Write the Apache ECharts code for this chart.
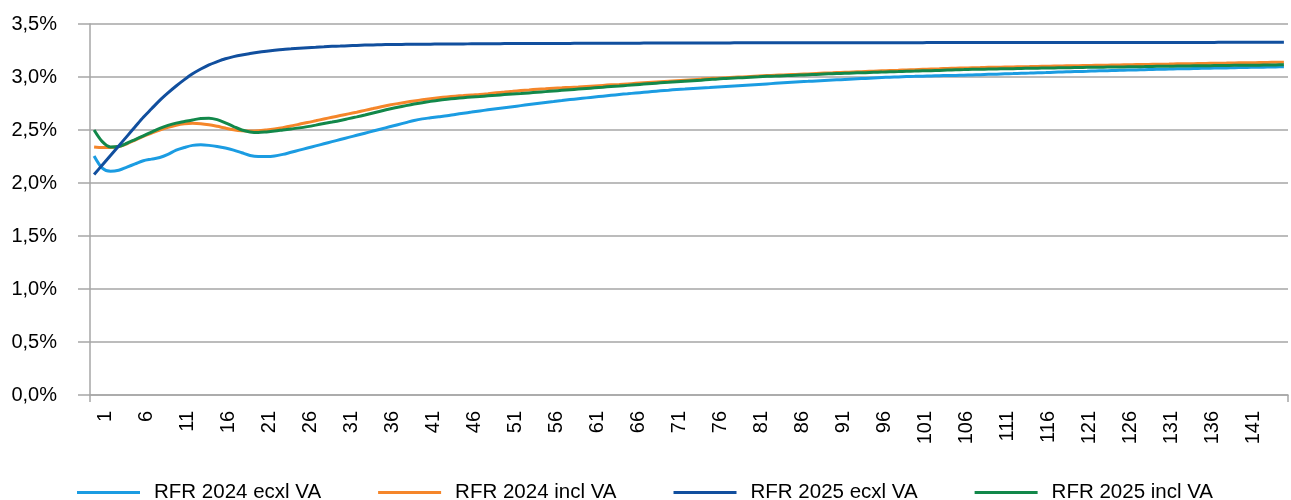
<!DOCTYPE html>
<html>
<head>
<meta charset="utf-8">
<title>RFR</title>
<script src="https://cdn.jsdelivr.net/npm/echarts@6/dist/echarts.min.js"></script>
<style>
  html, body { margin: 0; padding: 0; background: #ffffff; }
  #chart { width: 1291px; height: 500px; }
</style>
</head>
<body>
<div id="chart"></div>
<script>
// Maturities (years) on the category axis
const maturities = Array.from({ length: 146 }, (_, i) => String(i + 1));

const seriesNames = ['RFR 2024 ecxl VA', 'RFR 2024 incl VA', 'RFR 2025 ecxl VA', 'RFR 2025 incl VA'];

// Rates in percent, one value per maturity
const rfr2024Excl = [
  2.255, 2.140, 2.110, 2.120, 2.150, 2.180, 2.210, 2.225, 2.240, 2.270,
  2.310, 2.335, 2.355, 2.360, 2.355, 2.345, 2.330, 2.310, 2.285, 2.260,
  2.250, 2.250, 2.255, 2.270, 2.290, 2.310, 2.330, 2.350, 2.370, 2.390,
  2.410, 2.430, 2.450, 2.470, 2.490, 2.510, 2.530, 2.550, 2.570, 2.590,
  2.605, 2.615, 2.625, 2.635, 2.647, 2.658, 2.669, 2.680, 2.690, 2.700,
  2.710, 2.720, 2.730, 2.740, 2.750, 2.760, 2.769, 2.778, 2.787, 2.795,
  2.803, 2.811, 2.819, 2.827, 2.835, 2.842, 2.849, 2.856, 2.863, 2.870,
  2.876, 2.882, 2.887, 2.892, 2.896, 2.900, 2.905, 2.910, 2.915, 2.920,
  2.925, 2.930, 2.935, 2.940, 2.945, 2.950, 2.955, 2.959, 2.963, 2.967,
  2.971, 2.975, 2.979, 2.983, 2.987, 2.991, 2.995, 2.998, 3.001, 3.004,
  3.006, 3.008, 3.010, 3.012, 3.014, 3.015, 3.017, 3.020, 3.022, 3.025,
  3.027, 3.030, 3.032, 3.035, 3.037, 3.040, 3.042, 3.045, 3.047, 3.050,
  3.052, 3.054, 3.057, 3.059, 3.061, 3.063, 3.065, 3.067, 3.069, 3.071,
  3.073, 3.075, 3.077, 3.078, 3.080, 3.082, 3.083, 3.085, 3.086, 3.088,
  3.089, 3.091, 3.092, 3.094, 3.095, 3.097
];

const rfr2024Incl = [
  2.340, 2.335, 2.335, 2.345, 2.370, 2.405, 2.440, 2.470, 2.500, 2.525,
  2.545, 2.558, 2.563, 2.560, 2.550, 2.535, 2.518, 2.503, 2.493, 2.490,
  2.492, 2.500, 2.510, 2.522, 2.537, 2.555, 2.570, 2.587, 2.604, 2.620,
  2.636, 2.652, 2.668, 2.685, 2.702, 2.719, 2.735, 2.749, 2.762, 2.774,
  2.785, 2.795, 2.804, 2.812, 2.819, 2.825, 2.831, 2.836, 2.843, 2.851,
  2.858, 2.865, 2.872, 2.878, 2.884, 2.889, 2.894, 2.898, 2.902, 2.906,
  2.911, 2.916, 2.921, 2.926, 2.930, 2.935, 2.940, 2.945, 2.950, 2.955,
  2.960, 2.965, 2.970, 2.975, 2.980, 2.985, 2.989, 2.993, 2.997, 3.001,
  3.005, 3.009, 3.013, 3.017, 3.020, 3.023, 3.026, 3.029, 3.033, 3.037,
  3.040, 3.043, 3.046, 3.049, 3.052, 3.055, 3.058, 3.061, 3.064, 3.067,
  3.069, 3.072, 3.075, 3.078, 3.081, 3.083, 3.085, 3.087, 3.089, 3.091,
  3.092, 3.094, 3.095, 3.097, 3.098, 3.100, 3.101, 3.103, 3.104, 3.106,
  3.107, 3.109, 3.110, 3.111, 3.113, 3.114, 3.115, 3.117, 3.118, 3.120,
  3.121, 3.122, 3.124, 3.125, 3.126, 3.127, 3.129, 3.130, 3.131, 3.133,
  3.134, 3.135, 3.136, 3.137, 3.139, 3.140
];

const rfr2025Excl = [
  2.080, 2.170, 2.260, 2.350, 2.440, 2.530, 2.620, 2.700, 2.780, 2.850,
  2.915, 2.975, 3.030, 3.075, 3.115, 3.145, 3.172, 3.192, 3.208, 3.221,
  3.233, 3.243, 3.252, 3.260, 3.266, 3.272, 3.277, 3.281, 3.285, 3.289,
  3.292, 3.295, 3.298, 3.301, 3.303, 3.305, 3.306, 3.307, 3.308, 3.309,
  3.310, 3.310, 3.311, 3.311, 3.312, 3.312, 3.313, 3.313, 3.314, 3.314,
  3.315, 3.315, 3.315, 3.316, 3.316, 3.316, 3.317, 3.317, 3.317, 3.318,
  3.318, 3.318, 3.318, 3.319, 3.319, 3.319, 3.319, 3.320, 3.320, 3.320,
  3.320, 3.320, 3.321, 3.321, 3.321, 3.321, 3.321, 3.321, 3.322, 3.322,
  3.322, 3.322, 3.322, 3.322, 3.322, 3.323, 3.323, 3.323, 3.323, 3.323,
  3.323, 3.323, 3.323, 3.324, 3.324, 3.324, 3.324, 3.324, 3.324, 3.324,
  3.324, 3.324, 3.325, 3.325, 3.325, 3.325, 3.325, 3.325, 3.325, 3.325,
  3.325, 3.325, 3.325, 3.325, 3.325, 3.325, 3.326, 3.326, 3.326, 3.326,
  3.326, 3.326, 3.326, 3.326, 3.326, 3.326, 3.326, 3.326, 3.326, 3.326,
  3.326, 3.326, 3.326, 3.326, 3.326, 3.326, 3.326, 3.327, 3.327, 3.327,
  3.327, 3.327, 3.327, 3.327, 3.327, 3.327
];

const rfr2025Incl = [
  2.500, 2.390, 2.340, 2.345, 2.375, 2.410, 2.445, 2.480, 2.515, 2.543,
  2.565, 2.580, 2.595, 2.608, 2.612, 2.598, 2.568, 2.533, 2.500, 2.482,
  2.476, 2.482, 2.490, 2.500, 2.510, 2.520, 2.532, 2.546, 2.561, 2.575,
  2.590, 2.607, 2.624, 2.642, 2.661, 2.680, 2.698, 2.714, 2.730, 2.745,
  2.758, 2.770, 2.781, 2.790, 2.798, 2.805, 2.811, 2.816, 2.822, 2.828,
  2.834, 2.839, 2.844, 2.850, 2.856, 2.862, 2.868, 2.874, 2.880, 2.886,
  2.892, 2.898, 2.904, 2.910, 2.915, 2.921, 2.927, 2.933, 2.939, 2.945,
  2.950, 2.955, 2.960, 2.965, 2.970, 2.976, 2.982, 2.986, 2.990, 2.994,
  2.998, 3.002, 3.006, 3.009, 3.012, 3.015, 3.018, 3.021, 3.024, 3.028,
  3.031, 3.034, 3.036, 3.039, 3.041, 3.044, 3.046, 3.049, 3.051, 3.054,
  3.056, 3.058, 3.060, 3.062, 3.065, 3.068, 3.070, 3.072, 3.073, 3.075,
  3.076, 3.078, 3.079, 3.081, 3.082, 3.083, 3.085, 3.086, 3.087, 3.088,
  3.090, 3.091, 3.092, 3.093, 3.094, 3.095, 3.096, 3.097, 3.098, 3.100,
  3.101, 3.102, 3.103, 3.104, 3.105, 3.106, 3.107, 3.108, 3.109, 3.110,
  3.110, 3.111, 3.112, 3.113, 3.114, 3.115
];

const seriesColors = ['#1b9ce2', '#f5862a', '#114f9e', '#12884a'];
const seriesData = [rfr2024Excl, rfr2024Incl, rfr2025Excl, rfr2025Incl];

const FONT = "'Liberation Sans', Arial, sans-serif";
const GRID_GRAY = '#a6a6a6';
const LABEL_STEP = 5;

const chart = echarts.init(document.getElementById('chart'), null, { renderer: 'canvas' });

chart.setOption({
  animation: false,
  backgroundColor: '#ffffff',
  textStyle: { fontFamily: FONT },
  grid: { left: 90, right: 3, top: 24, bottom: 105, containLabel: false },
  legend: {
    data: seriesNames,
    left: 72,
    top: 477,
    icon: 'rect',
    itemWidth: 63,
    itemHeight: 3,
    itemGap: 57,
    textStyle: {
      fontFamily: FONT,
      fontSize: 20.5,
      color: '#000',
      width: 171,
      padding: [0, 0, 0, 9]
    }
  },
  xAxis: {
    type: 'category',
    data: maturities,
    boundaryGap: true,
    axisLine: { show: true, lineStyle: { color: GRID_GRAY, width: 1.5 } },
    axisTick: {
      show: true,
      length: 7,
      interval: (index) => index === 0,
      lineStyle: { color: GRID_GRAY, width: 1.5 }
    },
    axisLabel: {
      // every fifth maturity, leaving the final partial step unlabeled
      interval: (index) => index % LABEL_STEP === 0 && index + LABEL_STEP <= maturities.length,
      rotate: 90,
      margin: 16,
      verticalAlign: 'top',
      lineHeight: 22,
      fontFamily: FONT,
      fontSize: 20,
      color: '#000'
    },
    splitLine: { show: false }
  },
  yAxis: {
    type: 'value',
    min: 0,
    max: 3.5,
    interval: 0.5,
    axisLine: { show: true, lineStyle: { color: GRID_GRAY, width: 1.5 } },
    axisTick: { show: true, length: 12, lineStyle: { color: GRID_GRAY, width: 1.5 } },
    axisLabel: {
      margin: 33,
      fontFamily: FONT,
      fontSize: 20,
      color: '#000',
      formatter: (v) => v.toFixed(1).replace('.', ',') + '%'
    },
    splitLine: { show: true, lineStyle: { color: GRID_GRAY, width: 1.5 } }
  },
  series: seriesNames.map((name, i) => ({
    name: name,
    type: 'line',
    data: seriesData[i],
    smooth: 0.3,
    showSymbol: false,
    symbol: 'none',
    lineStyle: { color: seriesColors[i], width: 3 },
    itemStyle: { color: seriesColors[i] },
    z: i === 2 ? 3 : 2
  }))
});
</script>
</body>
</html>
